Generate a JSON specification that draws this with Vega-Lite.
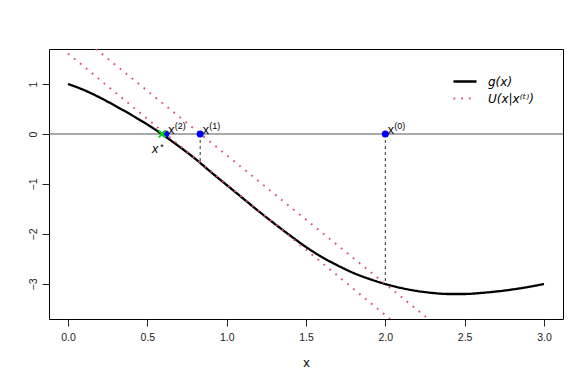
{
  "$schema": "https://vega.github.io/schema/vega-lite/v6.json",
  "width": 514,
  "height": 270,
  "autosize": {"type": "none"},
  "padding": {"left": 49, "top": 49, "right": 25, "bottom": 62},
  "background": "white",
  "config": {
    "view": {"stroke": "black", "strokeWidth": 1},
    "font": "Liberation Sans",
    "axis": {"domain": false, "grid": false, "tickColor": "#222", "tickSize": 7, "labelFont": "Liberation Sans", "labelFontSize": 10.5, "labelColor": "#222", "titleColor": "black", "titleFont": "Liberation Sans", "titleFontWeight": "normal"}
  },
  "datasets": {
    "curvedata": [
      {"x": 0.0, "y": 1.0, "series": "g(x)", "grp": "g"},
      {"x": 0.1, "y": 0.88, "series": "g(x)", "grp": "g"},
      {"x": 0.2, "y": 0.73, "series": "g(x)", "grp": "g"},
      {"x": 0.3, "y": 0.56, "series": "g(x)", "grp": "g"},
      {"x": 0.4, "y": 0.38, "series": "g(x)", "grp": "g"},
      {"x": 0.5, "y": 0.19, "series": "g(x)", "grp": "g"},
      {"x": 0.6, "y": -0.02, "series": "g(x)", "grp": "g"},
      {"x": 0.7, "y": -0.25, "series": "g(x)", "grp": "g"},
      {"x": 0.8, "y": -0.49, "series": "g(x)", "grp": "g"},
      {"x": 0.9, "y": -0.76, "series": "g(x)", "grp": "g"},
      {"x": 1.0, "y": -1.02, "series": "g(x)", "grp": "g"},
      {"x": 1.1, "y": -1.28, "series": "g(x)", "grp": "g"},
      {"x": 1.2, "y": -1.54, "series": "g(x)", "grp": "g"},
      {"x": 1.3, "y": -1.79, "series": "g(x)", "grp": "g"},
      {"x": 1.4, "y": -2.03, "series": "g(x)", "grp": "g"},
      {"x": 1.5, "y": -2.26, "series": "g(x)", "grp": "g"},
      {"x": 1.6, "y": -2.46, "series": "g(x)", "grp": "g"},
      {"x": 1.7, "y": -2.63, "series": "g(x)", "grp": "g"},
      {"x": 1.8, "y": -2.78, "series": "g(x)", "grp": "g"},
      {"x": 1.9, "y": -2.9, "series": "g(x)", "grp": "g"},
      {"x": 2.0, "y": -3.0, "series": "g(x)", "grp": "g"},
      {"x": 2.1, "y": -3.08, "series": "g(x)", "grp": "g"},
      {"x": 2.2, "y": -3.14, "series": "g(x)", "grp": "g"},
      {"x": 2.3, "y": -3.18, "series": "g(x)", "grp": "g"},
      {"x": 2.4, "y": -3.2, "series": "g(x)", "grp": "g"},
      {"x": 2.5, "y": -3.2, "series": "g(x)", "grp": "g"},
      {"x": 2.6, "y": -3.18, "series": "g(x)", "grp": "g"},
      {"x": 2.7, "y": -3.15, "series": "g(x)", "grp": "g"},
      {"x": 2.8, "y": -3.11, "series": "g(x)", "grp": "g"},
      {"x": 2.9, "y": -3.06, "series": "g(x)", "grp": "g"},
      {"x": 3.0, "y": -3.0, "series": "g(x)", "grp": "g"},
      {"x": 0.175, "y": 1.7, "series": "U(x|x⁽ᵗ⁾)", "grp": "U0"},
      {"x": 2.272, "y": -3.7, "series": "U(x|x⁽ᵗ⁾)", "grp": "U0"},
      {"x": 0.0, "y": 1.61, "series": "U(x|x⁽ᵗ⁾)", "grp": "U1"},
      {"x": 2.03, "y": -3.7, "series": "U(x|x⁽ᵗ⁾)", "grp": "U1"}
    ],
    "iterates": [
      {"x": 2.0, "y": 0, "gy": -3.0, "sup": "(0)"},
      {"x": 0.833, "y": 0, "gy": -0.57, "sup": "(1)"},
      {"x": 0.616, "y": 0, "gy": -0.04, "sup": "(2)"}
    ],
    "xstar": [{"x": 0.593, "y": 0}]
  },
  "layer": [
    {
      "data": {"values": [{"y": 0}]},
      "mark": {"type": "rule", "color": "#555555", "strokeWidth": 1},
      "encoding": {
        "y": {"field": "y", "type": "quantitative", "scale": {"domain": [-3.7, 1.7], "nice": false, "zero": false}, "axis": {"values": [-3, -2, -1, 0, 1], "format": "d", "title": null, "labelAngle": -90, "labelAlign": "center", "labelBaseline": "bottom", "labelPadding": 4}}
      }
    },
    {
      "data": {"name": "iterates"},
      "mark": {"type": "rule", "color": "#333", "strokeWidth": 1, "strokeDash": [3, 3]},
      "encoding": {
        "x": {"field": "x", "type": "quantitative", "scale": {"domain": [-0.12, 3.12], "nice": false, "zero": false}, "axis": {"values": [0, 0.5, 1, 1.5, 2, 2.5, 3], "format": ".1f", "title": "x", "titleFontSize": 13, "titlePadding": 14, "labelPadding": 6}},
        "y": {"field": "y", "type": "quantitative", "scale": {"domain": [-3.7, 1.7], "nice": false, "zero": false}},
        "y2": {"field": "gy"}
      }
    },
    {
      "data": {"name": "curvedata"},
      "mark": {"type": "line", "strokeCap": "butt", "clip": true, "interpolate": "monotone"},
      "encoding": {
        "x": {"field": "x", "type": "quantitative", "scale": {"domain": [-0.12, 3.12], "nice": false, "zero": false}},
        "y": {"field": "y", "type": "quantitative", "scale": {"domain": [-3.7, 1.7], "nice": false, "zero": false}},
        "detail": {"field": "grp"},
        "color": {"field": "series", "type": "nominal", "scale": {"domain": ["g(x)", "U(x|x⁽ᵗ⁾)"], "range": ["black", "#DF536B"]},
          "legend": {"orient": "none", "legendX": 403, "legendY": 24, "title": null, "symbolType": "stroke", "symbolSize": 529, "symbolStrokeWidth": 2, "labelFontSize": 12, "labelFontStyle": "italic", "labelFont": "DejaVu Sans", "labelColor": "black", "labelOffset": 10, "clipHeight": 17, "rowPadding": 0, "padding": 0}},
        "strokeDash": {"field": "series", "type": "nominal", "scale": {"domain": ["g(x)", "U(x|x⁽ᵗ⁾)"], "range": [[1, 0], [1.8, 5.9]]}},
        "strokeWidth": {"field": "series", "type": "nominal", "scale": {"domain": ["g(x)", "U(x|x⁽ᵗ⁾)"], "range": [2.3, 1.9]}}
      }
    },
    {
      "data": {"name": "iterates"},
      "mark": {"type": "point", "filled": true, "color": "#0000FF", "size": 50, "opacity": 1},
      "encoding": {
        "x": {"field": "x", "type": "quantitative", "scale": {"domain": [-0.12, 3.12], "nice": false, "zero": false}},
        "y": {"field": "y", "type": "quantitative", "scale": {"domain": [-3.7, 1.7], "nice": false, "zero": false}}
      }
    },
    {
      "data": {"name": "xstar"},
      "mark": {"type": "point", "shape": "M-1,-1L1,1M-1,1L1,-1", "filled": false, "color": "#00E000", "strokeWidth": 2, "size": 45, "opacity": 1},
      "encoding": {
        "x": {"field": "x", "type": "quantitative", "scale": {"domain": [-0.12, 3.12], "nice": false, "zero": false}},
        "y": {"field": "y", "type": "quantitative", "scale": {"domain": [-3.7, 1.7], "nice": false, "zero": false}}
      }
    },
    {
      "data": {"name": "iterates"},
      "mark": {"type": "text", "text": "x", "align": "left", "baseline": "alphabetic", "dx": 2.5, "dy": 0, "fontSize": 12.5, "color": "black", "font": "Liberation Sans"},
      "encoding": {
        "x": {"field": "x", "type": "quantitative", "scale": {"domain": [-0.12, 3.12], "nice": false, "zero": false}},
        "y": {"field": "y", "type": "quantitative", "scale": {"domain": [-3.7, 1.7], "nice": false, "zero": false}}
      }
    },
    {
      "data": {"name": "iterates"},
      "mark": {"type": "text", "align": "left", "baseline": "alphabetic", "dx": 9, "dy": -5, "fontSize": 9, "color": "black", "font": "Liberation Sans"},
      "encoding": {
        "x": {"field": "x", "type": "quantitative", "scale": {"domain": [-0.12, 3.12], "nice": false, "zero": false}},
        "y": {"field": "y", "type": "quantitative", "scale": {"domain": [-3.7, 1.7], "nice": false, "zero": false}},
        "text": {"field": "sup"}
      }
    },
    {
      "data": {"name": "xstar"},
      "mark": {"type": "text", "text": "x", "align": "center", "baseline": "alphabetic", "dx": -7, "dy": 19, "fontSize": 12.5, "fontStyle": "italic", "color": "black", "font": "Liberation Sans"},
      "encoding": {
        "x": {"field": "x", "type": "quantitative", "scale": {"domain": [-0.12, 3.12], "nice": false, "zero": false}},
        "y": {"field": "y", "type": "quantitative", "scale": {"domain": [-3.7, 1.7], "nice": false, "zero": false}}
      }
    },
    {
      "data": {"name": "xstar"},
      "mark": {"type": "text", "text": "*", "align": "center", "baseline": "alphabetic", "dx": 0, "dy": 16, "fontSize": 9, "color": "black", "font": "Liberation Sans"},
      "encoding": {
        "x": {"field": "x", "type": "quantitative", "scale": {"domain": [-0.12, 3.12], "nice": false, "zero": false}},
        "y": {"field": "y", "type": "quantitative", "scale": {"domain": [-3.7, 1.7], "nice": false, "zero": false}}
      }
    }
  ]
}
